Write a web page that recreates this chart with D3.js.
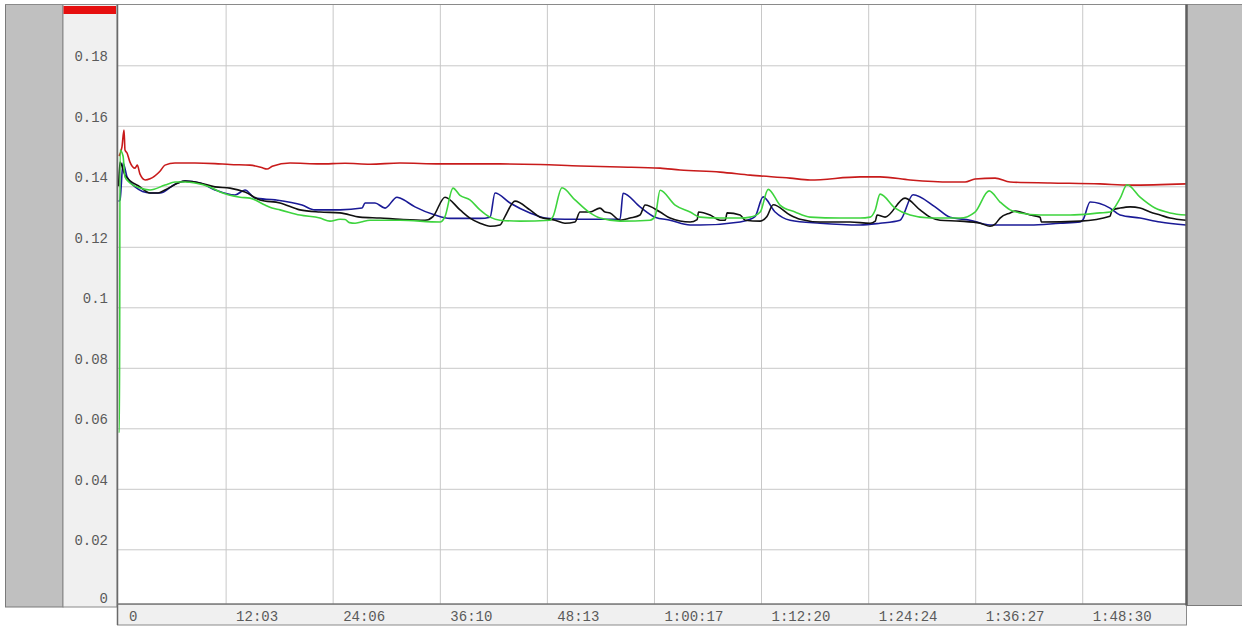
<!DOCTYPE html>
<html>
<head>
<meta charset="utf-8">
<script src="https://cdn.jsdelivr.net/npm/d3@7"></script>
<style>
  html, body { margin: 0; padding: 0; background: #fff; }
  svg { display: block; }
  .lbl { font-family: "Liberation Mono", "DejaVu Sans Mono", monospace; font-size: 14px; fill: #5a5a5a; }
</style>
</head>
<body>
<svg id="chart"></svg>
<script>
// chart size
const canvasWidth = 1242;
const canvasHeight = 626;

// axis ticks (time in minutes)
const xTicks = [0, 12.05, 24.1, 36.17, 48.22, 60.28, 72.33, 84.4, 96.45, 108.5];
const xTickLabels = ["0", "12:03", "24:06", "36:10", "48:13", "1:00:17", "1:12:20", "1:24:24", "1:36:27", "1:48:30"];
const yTicks = [0, 0.02, 0.04, 0.06, 0.08, 0.1, 0.12, 0.14, 0.16, 0.18];
const yTickLabels = ["0", "0.02", "0.04", "0.06", "0.08", "0.1", "0.12", "0.14", "0.16", "0.18"];

// series: [minutes, value]
const redSeries = [
  [0.05, 0.1500], [0.38, 0.1530], [0.61, 0.1586], [0.72, 0.1520], [0.95, 0.1510], [1.28, 0.1480],
  [1.85, 0.1460], [2.1, 0.1470], [2.41, 0.1440], [3.0, 0.1421], [3.54, 0.1425], [4.66, 0.1450],
  [5.22, 0.1470], [6.35, 0.1477], [8.6, 0.1477], [10.85, 0.1475], [12.54, 0.1472], [14.79, 0.1470],
  [16.1, 0.1462], [16.71, 0.1457], [17.3, 0.1466], [19.3, 0.1477], [22.67, 0.1474], [25.5, 0.1476],
  [28.3, 0.1473], [31.68, 0.1477], [36.19, 0.1474], [42.94, 0.1474], [47.45, 0.1472], [51.95, 0.1467],
  [56.46, 0.1464], [60.97, 0.1460], [63.22, 0.1454], [67.73, 0.1447], [71.11, 0.1437], [75.6, 0.1427],
  [77.85, 0.1421], [83.48, 0.1431], [85.74, 0.1431], [89.12, 0.1421], [93.62, 0.1414], [95.31, 0.1414],
  [96.43, 0.1424], [98.69, 0.1427], [100.38, 0.1414], [104.89, 0.1411], [110.5, 0.1408], [113.89, 0.1404],
  [120.19, 0.1408]
];

const blueSeries = [
  [0, 0.1350], [0.16, 0.1355], [0.5, 0.1477], [0.95, 0.1431], [1.85, 0.1398], [3.54, 0.1378],
  [4.66, 0.1378], [6.35, 0.1407], [7.48, 0.1417], [9.16, 0.1411], [10.85, 0.1388], [13.1, 0.1371],
  [14.23, 0.1388], [15.36, 0.1361], [17.61, 0.1355], [20.65, 0.1338], [22.11, 0.1322], [24.93, 0.1322],
  [27.41, 0.1328], [27.75, 0.1345], [28.87, 0.1345], [30.0, 0.1328], [31.35, 0.1364], [31.68, 0.1361],
  [33.37, 0.1332], [35.63, 0.1305], [37.31, 0.1294], [40.69, 0.1294], [41.82, 0.1298], [42.38, 0.1378],
  [44.07, 0.1345], [46.32, 0.1312], [48.01, 0.1295], [50.26, 0.1291], [56.46, 0.1291], [56.8, 0.1377],
  [58.71, 0.1332], [60.4, 0.1298], [62.09, 0.1288], [64.35, 0.1272], [65.47, 0.1272], [69.98, 0.1282],
  [71.11, 0.1291], [71.67, 0.1300], [72.57, 0.1365], [73.92, 0.1315], [75.6, 0.1288], [78.98, 0.1278],
  [83.48, 0.1272], [85.74, 0.1278], [87.99, 0.1288], [89.45, 0.1372], [91.93, 0.1332], [93.62, 0.1298],
  [95.87, 0.1288], [98.12, 0.1272], [102.63, 0.1272], [106.01, 0.1278], [108.27, 0.1282], [108.6, 0.1290],
  [109.39, 0.1348], [111.63, 0.1328], [112.76, 0.1305], [115.01, 0.1295], [117.27, 0.1282], [120.19, 0.1272]
];

const blackSeries = [
  [0, 0.1400], [0.16, 0.1480], [0.72, 0.1437], [2.41, 0.1398], [3.54, 0.1378], [4.44, 0.1378],
  [5.22, 0.1388], [7.48, 0.1417], [9.16, 0.1411], [10.85, 0.1398], [12.54, 0.1394], [14.23, 0.1381],
  [15.92, 0.1355], [18.17, 0.1345], [20.42, 0.1322], [22.67, 0.1315], [24.93, 0.1312], [27.18, 0.1298],
  [29.44, 0.1295], [31.68, 0.1291], [34.5, 0.1288], [35.4, 0.1300], [36.75, 0.1364], [38.44, 0.1322],
  [39.56, 0.1295], [40.69, 0.1278], [41.82, 0.1268], [42.94, 0.1272], [43.5, 0.1300], [44.63, 0.1351],
  [46.32, 0.1322], [47.45, 0.1298], [49.14, 0.1288], [50.26, 0.1278], [51.39, 0.1282], [51.95, 0.1315],
  [53.08, 0.1315], [54.2, 0.1328], [54.77, 0.1315], [55.33, 0.1312], [56.46, 0.1288], [57.58, 0.1295],
  [58.71, 0.1305], [59.28, 0.1338], [60.97, 0.1315], [62.09, 0.1295], [64.35, 0.1282], [65.14, 0.1290],
  [65.3, 0.1315], [66.6, 0.1305], [67.73, 0.1288], [68.3, 0.1288], [68.52, 0.1312], [69.98, 0.1305],
  [70.55, 0.1288], [72.24, 0.1285], [73.0, 0.1300], [73.7, 0.1339], [75.6, 0.1305], [76.73, 0.1291],
  [78.98, 0.1282], [82.36, 0.1282], [84.61, 0.1278], [85.2, 0.1285], [85.4, 0.1305], [86.3, 0.1298],
  [88.55, 0.1361], [90.24, 0.1322], [91.37, 0.1298], [92.49, 0.1288], [94.74, 0.1285], [97.0, 0.1278],
  [98.12, 0.1268], [98.69, 0.1275], [99.25, 0.1295], [100.38, 0.1312], [100.94, 0.1318], [102.63, 0.1305],
  [103.76, 0.1298], [103.9, 0.1282], [108.27, 0.1285], [111.63, 0.1301], [111.86, 0.1322], [112.76, 0.1328],
  [113.89, 0.1332], [115.01, 0.1328], [116.14, 0.1315], [117.27, 0.1305], [118.39, 0.1295], [120.19, 0.1288]
];

const greenSeries = [
  [0, 0.0588], [0.1, 0.0588], [0.16, 0.1520], [0.5, 0.1500], [0.72, 0.1431], [1.28, 0.1411],
  [2.41, 0.1394], [3.54, 0.1388], [5.22, 0.1404], [6.35, 0.1414], [7.48, 0.1414], [8.6, 0.1411],
  [10.29, 0.1398], [11.42, 0.1381], [13.67, 0.1364], [14.79, 0.1361], [16.48, 0.1338], [17.27, 0.1328],
  [18.17, 0.1322], [20.42, 0.1305], [22.67, 0.1295], [23.8, 0.1285], [24.93, 0.1291], [25.49, 0.1290],
  [26.0, 0.1280], [26.62, 0.1278], [27.3, 0.1282], [28.31, 0.1288], [31.68, 0.1288], [36.19, 0.1282],
  [36.75, 0.1300], [37.65, 0.1394], [38.44, 0.1370], [39.56, 0.1355], [40.69, 0.1322], [41.82, 0.1298],
  [42.94, 0.1288], [45.19, 0.1285], [48.57, 0.1288], [48.91, 0.1300], [49.92, 0.1395], [51.39, 0.1355],
  [53.08, 0.1312], [54.2, 0.1295], [56.46, 0.1285], [59.84, 0.1288], [60.4, 0.1300], [60.97, 0.1387],
  [62.66, 0.1338], [64.35, 0.1315], [65.47, 0.1298], [67.73, 0.1295], [69.98, 0.1295], [71.11, 0.1298],
  [72.24, 0.1315], [73.14, 0.1390], [74.47, 0.1338], [76.16, 0.1315], [77.85, 0.1298], [81.23, 0.1295],
  [83.48, 0.1295], [84.61, 0.1298], [85.17, 0.1320], [85.74, 0.1374], [87.43, 0.1328], [89.12, 0.1305],
  [91.37, 0.1295], [94.74, 0.1295], [96.43, 0.1315], [98.01, 0.1385], [99.25, 0.1348], [100.38, 0.1322],
  [101.5, 0.1312], [103.76, 0.1305], [107.14, 0.1305], [110.5, 0.1312], [111.63, 0.1315], [112.76, 0.1360],
  [113.55, 0.1405], [115.01, 0.1364], [116.7, 0.1328], [118.39, 0.1312], [120.19, 0.1305]
];

const seriesList = [
  { data: redSeries, color: "#c81b1b" },
  { data: blueSeries, color: "#1a1a96" },
  { data: blackSeries, color: "#111111" },
  { data: greenSeries, color: "#3ed43e" }
];

// plot box
const plotLeft = 117.5;
const plotRight = 1186.5;
const plotTop = 4.5;
const plotBottom = 604;

const svg = d3.select('#chart')
  .attr('width', canvasWidth)
  .attr('height', canvasHeight);

// scales
const xScale = d3.scaleLinear().domain([0, 120.15]).range([118.6, 1185.7]);
const yScale = d3.scaleLinear().domain([0, 0.2]).range([609.8, 4.8]);

// side panels
svg.append('rect')
  .attr('x', 5.5).attr('y', plotTop).attr('width', 57.5).attr('height', 602.5)
  .attr('fill', '#c0c0c0').attr('stroke', '#7a7a7a');

svg.append('rect')
  .attr('x', 63).attr('y', plotTop).attr('width', 54).attr('height', 602.5)
  .attr('fill', '#f0f0f0').attr('stroke', '#8a8a8a');

svg.append('rect')
  .attr('x', 63.5).attr('y', 6).attr('width', 52.5).attr('height', 8)
  .attr('fill', '#e60f0f');

svg.append('rect')
  .attr('x', plotRight).attr('y', plotTop).attr('width', 60).attr('height', 601)
  .attr('fill', '#c0c0c0').attr('stroke', '#7a7a7a');

// x label strip
svg.append('rect')
  .attr('x', plotLeft).attr('y', plotBottom).attr('width', plotRight - plotLeft).attr('height', 21)
  .attr('fill', '#f0f0f0').attr('stroke', '#8a8a8a');

// plot background
svg.append('rect')
  .attr('x', plotLeft).attr('y', plotTop).attr('width', plotRight - plotLeft).attr('height', plotBottom - plotTop)
  .attr('fill', '#ffffff');

// grid lines
const xGrid = svg.append('g')
  .attr('transform', `translate(0, ${plotBottom})`)
  .call(d3.axisBottom(xScale)
    .tickValues(xTicks.slice(1))
    .tickSize(-(plotBottom - plotTop))
    .tickFormat(''));
xGrid.select('.domain').remove();
xGrid.selectAll('line').attr('stroke', '#c8c8c8');

const yGrid = svg.append('g')
  .attr('transform', `translate(${plotLeft}, 0)`)
  .call(d3.axisLeft(yScale)
    .tickValues(yTicks.slice(1))
    .tickSize(-(plotRight - plotLeft))
    .tickFormat(''));
yGrid.select('.domain').remove();
yGrid.selectAll('line').attr('stroke', '#c8c8c8');

// tick labels
svg.append('g')
  .selectAll('text')
  .data(yTicks)
  .enter()
  .append('text')
  .attr('class', 'lbl')
  .attr('x', 108)
  .attr('y', d => Math.min(yScale(d) - 4, 603))
  .attr('text-anchor', 'end')
  .text((d, i) => yTickLabels[i]);

svg.append('g')
  .selectAll('text')
  .data(xTicks)
  .enter()
  .append('text')
  .attr('class', 'lbl')
  .attr('x', d => xScale(d) + 10.5)
  .attr('y', 621)
  .text((d, i) => xTickLabels[i]);

// lines
svg.append('clipPath').attr('id', 'plot-clip')
  .append('rect')
  .attr('x', plotLeft).attr('y', plotTop).attr('width', plotRight - plotLeft).attr('height', plotBottom - plotTop);

const line = d3.line()
  .curve(d3.curveMonotoneX)
  .x(d => xScale(d[0]))
  .y(d => yScale(d[1]));

svg.append('g')
  .attr('clip-path', 'url(#plot-clip)')
  .selectAll('path')
  .data(seriesList)
  .enter()
  .append('path')
  .attr('d', d => line(d.data))
  .attr('fill', 'none')
  .attr('stroke', d => d.color)
  .attr('stroke-width', 1.6)
  .attr('stroke-linejoin', 'round');

// plot borders
svg.append('line')
  .attr('x1', 5).attr('x2', canvasWidth).attr('y1', plotTop).attr('y2', plotTop)
  .attr('stroke', '#8a8a8a');
svg.append('line')
  .attr('x1', plotLeft).attr('x2', plotLeft).attr('y1', plotTop).attr('y2', 625)
  .attr('stroke', '#6a6a6a').attr('stroke-width', 1.5);
svg.append('line')
  .attr('x1', plotLeft).attr('x2', plotRight).attr('y1', plotBottom).attr('y2', plotBottom)
  .attr('stroke', '#7a7a7a').attr('stroke-width', 1.5);
svg.append('line')
  .attr('x1', plotRight).attr('x2', plotRight).attr('y1', plotTop).attr('y2', 605.5)
  .attr('stroke', '#5e5e5e').attr('stroke-width', 2.5);
</script>
</body>
</html>
